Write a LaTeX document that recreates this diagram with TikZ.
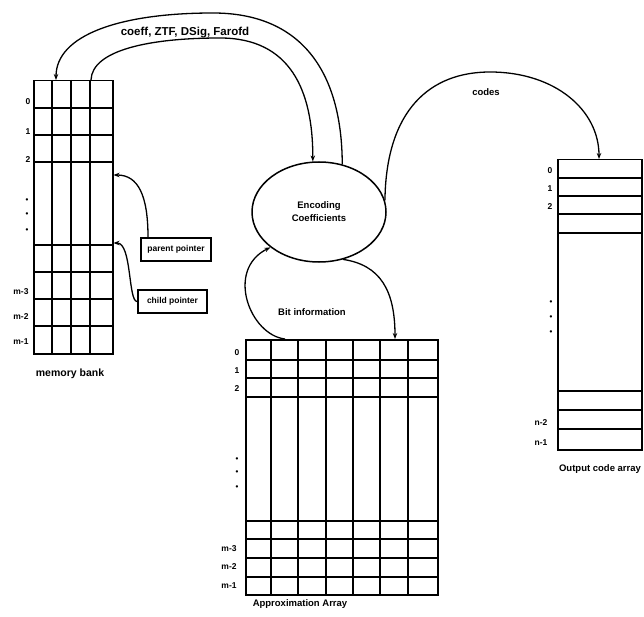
\documentclass[tikz,border=0pt]{standalone}
\usepackage{fontspec}
\setmainfont{Liberation Sans}
\usetikzlibrary{shapes.geometric,arrows.meta,calc}
\begin{document}
\begin{tikzpicture}[x=1pt,y=-1pt,
  gl/.style={line width=1.5pt},
  gridbox/.style={draw, line width=1.5pt, rectangle, inner sep=0pt, anchor=north west},
  ptrbox/.style={draw, line width=1.5pt, rectangle, inner sep=0pt, font=\bfseries\fontsize{8.5}{9}\selectfont},
  lbl/.style={font=\bfseries\fontsize{9.5}{11}\selectfont, inner sep=0pt},
  idx/.style={font=\bfseries\fontsize{8.5}{9}\selectfont, inner sep=0pt},
  dotmark/.style={font=\bfseries\fontsize{8}{8}\selectfont, inner sep=0pt},
  conn/.style={line width=1.3pt, -{Stealth[length=6pt,width=4.5pt]}}]
\useasboundingbox (0,0) rectangle (644,617);

% ---------------- memory bank ----------------
\node[gridbox, minimum width=79pt, minimum height=273pt] (mb) at (33,80) {};
\foreach \x in {52,71,90} \draw[gl] (\x,80) -- (\x,353);
\foreach \y in {108,135,162,245,272,299,326} \draw[gl] (33,\y) -- (112,\y);
\node[idx] (mb0) at (28,102) {0};
\node[idx] (mb1) at (28,132) {1};
\node[idx] (mb2) at (28,160) {2};
\node[dotmark] (mbd1) at (27,201) {\textbullet};
\node[dotmark] (mbd2) at (27,215) {\textbullet};
\node[dotmark] (mbd3) at (27,231) {\textbullet};
\node[idx] (mbm3) at (21,292) {m-3};
\node[idx] (mbm2) at (21,317) {m-2};
\node[idx] (mbm1) at (21,342) {m-1};
\node[lbl, font=\bfseries\fontsize{10.5}{12}\selectfont] (mbl) at (70,374) {memory bank};

% pointer boxes
\node[ptrbox, minimum width=70pt, minimum height=23pt] (pp) at (176,249.5) {parent pointer};
\node[ptrbox, minimum width=69pt, minimum height=23pt] (cp) at (172.5,301.5) {child pointer};

% ---------------- encoding ellipse ----------------
\node[ellipse, draw, line width=1.5pt, minimum width=134pt, minimum height=100pt, inner sep=0pt,
      align=center, font=\bfseries\fontsize{9.5}{13}\selectfont] (enc) at (319,212) {Encoding\\Coefficients};

% ---------------- approximation array ----------------
\node[gridbox, minimum width=192pt, minimum height=255pt] (aa) at (245,339) {};
\foreach \x in {271,298,326,353,380,408} \draw[gl] (\x,339) -- (\x,594);
\foreach \y in {360,378,397,521,539,558,577} \draw[gl] (245,\y) -- (437,\y);
\node[idx] (aa0) at (237,353) {0};
\node[idx] (aa1) at (237,371) {1};
\node[idx] (aa2) at (237,389) {2};
\node[dotmark] (aad1) at (237,460) {\textbullet};
\node[dotmark] (aad2) at (237,473) {\textbullet};
\node[dotmark] (aad3) at (237,488) {\textbullet};
\node[idx] (aam3) at (229,549) {m-3};
\node[idx] (aam2) at (229,567) {m-2};
\node[idx] (aam1) at (229,586) {m-1};
\node[lbl] (aal) at (300,604) {Approximation Array};

% ---------------- output code array ----------------
\node[gridbox, minimum width=84pt, minimum height=290pt] (oc) at (557,159) {};
\foreach \y in {178,196,214,233,391,410,429} \draw[gl] (557,\y) -- (641,\y);
\node[idx] (oc0) at (550,171) {0};
\node[idx] (oc1) at (550,189) {1};
\node[idx] (oc2) at (550,207) {2};
\node[dotmark] (ocd1) at (551,303) {\textbullet};
\node[dotmark] (ocd2) at (551,318) {\textbullet};
\node[dotmark] (ocd3) at (551,333) {\textbullet};
\node[idx] (ocn2) at (541,423) {n-2};
\node[idx] (ocn1) at (541,443) {n-1};
\node[lbl] (ocl) at (600,469) {Output code array};

% ---------------- connectors ----------------
% outer arc: encoder -> memory bank
\draw[conn] (enc.64) .. controls (342,70) and (300,13) .. (213,13)
            .. controls (120,13) and (56,35) .. ($(mb.north west)+(23,0)$);
% inner arc: memory bank -> encoder
\draw[conn] ($(mb.north west)+(58,0)$) .. controls (92,50) and (150,38) .. (220,38)
            .. controls (290,38) and (313,90) .. (enc.97);
\node[lbl, font=\bfseries\fontsize{11.5}{13}\selectfont] (toplbl) at (185,33) {coeff, ZTF, DSig, Farofd};

% pointer arrows
\draw[conn] (pp.north -| 148,0) .. controls (148,195) and (138,175) .. ($(mb.north east)+(0,95)$);
\draw[conn] (cp.west) .. controls (128,302) and (132,243) .. ($(mb.north east)+(0,163)$);

% codes arc
\draw[conn] (enc.10) .. controls (386,110) and (430,72) .. (490,72)
            .. controls (555,72) and (599,110) .. ($(oc.north west)+(42,0)$);
\node[lbl] (codeslbl) at (486,92) {codes};

% bit information arcs
\draw[conn] ($(aa.north west)+(40,0)$) .. controls (250,335) and (225,270) .. (enc.216);
\draw[conn] (enc.-63) .. controls (380,265) and (395,290) .. ($(aa.north west)+(150,0)$);
\node[lbl] (bitlbl) at (312,312) {Bit information};
\end{tikzpicture}
\end{document}
